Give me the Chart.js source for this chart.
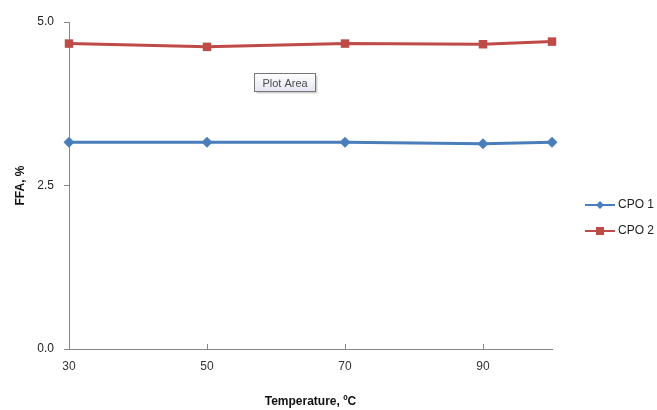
<!DOCTYPE html>
<html>
<head>
<meta charset="utf-8">
<script src="https://cdn.jsdelivr.net/npm/chart.js@4.4.1/dist/chart.umd.min.js"></script>
<style>
  html, body { margin: 0; padding: 0; background: #fff; }
  #wrap { width: 657px; height: 410px; position: relative; }
</style>
</head>
<body>
<div id="wrap"><canvas id="myChart"></canvas></div>
<script>
// data
var temps = [30, 50, 70, 90, 100];
var cpo1 = [3.16, 3.16, 3.16, 3.14, 3.16];
var cpo2 = [4.67, 4.62, 4.67, 4.66, 4.70];
var seriesNames = ['CPO 1', 'CPO 2'];
var xTicks = [30, 50, 70, 90];
var yTicks = [0, 2.5, 5];

var blue = '#4a7ebb';
var red = '#be4b48';
var axisColor = '#868686';
var fontName = "'Liberation Sans', Arial, sans-serif";

function toPoints(xs, ys){
	var pts = [];
	for(var i=0; i<xs.length; i++){
		pts.push({x: xs[i], y: ys[i]});
	}
	return pts;
}

// small tick marks inside the plot on the x axis (excel style)
var innerTicks = {
	id: 'innerTicks',
	afterDatasetsDraw: function(chart){
		var ctx = chart.ctx;
		var xs = chart.scales.x;
		var bottom = chart.chartArea.bottom;
		ctx.save();
		ctx.strokeStyle = axisColor;
		ctx.lineWidth = 1;
		for(var i=1; i<xTicks.length; i++){
			var px = Math.round(xs.getPixelForValue(xTicks[i])) + 0.5;
			ctx.beginPath();
			ctx.moveTo(px, bottom);
			ctx.lineTo(px, bottom - 5);
			ctx.stroke();
		}
		ctx.restore();
	}
};

// legend with line + marker like excel
var sideLegend = {
	id: 'sideLegend',
	afterDraw: function(chart){
		var ctx = chart.ctx;
		var x0 = 585, x1 = 615;
		var rows = [205, 231];
		ctx.save();
		chart.data.datasets.forEach(function(ds, i){
			var y = rows[i];
			ctx.strokeStyle = ds.borderColor;
			ctx.lineWidth = 2;
			ctx.beginPath();
			ctx.moveTo(x0, y);
			ctx.lineTo(x1, y);
			ctx.stroke();
			ctx.fillStyle = ds.backgroundColor;
			var cx = (x0 + x1) / 2;
			if(ds.pointStyle === 'rectRot'){
				ctx.beginPath();
				ctx.moveTo(cx, y - 4);
				ctx.lineTo(cx + 4, y);
				ctx.lineTo(cx, y + 4);
				ctx.lineTo(cx - 4, y);
				ctx.closePath();
				ctx.fill();
			}else{
				ctx.fillRect(cx - 4, y - 4, 8, 8);
			}
			ctx.fillStyle = '#222';
			ctx.font = '12px ' + fontName;
			ctx.textBaseline = 'middle';
			ctx.textAlign = 'left';
			ctx.fillText(ds.label, 618, y);
		});
		ctx.restore();
	}
};

// the "Plot Area" hover box seen in the picture
var plotAreaTip = {
	id: 'plotAreaTip',
	afterDraw: function(chart){
		var ctx = chart.ctx;
		var bx = 254.5, by = 73.5, bw = 61, bh = 18;
		ctx.save();
		ctx.fillStyle = 'rgba(0,0,0,0.18)';
		ctx.fillRect(bx + 2, by + 2, bw, bh);
		var g = ctx.createLinearGradient(0, by, 0, by + bh);
		g.addColorStop(0, '#ffffff');
		g.addColorStop(1, '#e4e5f0');
		ctx.fillStyle = g;
		ctx.fillRect(bx, by, bw, bh);
		ctx.strokeStyle = '#767676';
		ctx.lineWidth = 1;
		ctx.strokeRect(bx, by, bw, bh);
		ctx.fillStyle = '#4c4c4c';
		ctx.font = '11px ' + fontName;
		ctx.textAlign = 'center';
		ctx.textBaseline = 'middle';
		ctx.fillText('Plot Area', bx + bw / 2, by + bh / 2 + 1);
		ctx.restore();
	}
};

var chartData = {
	datasets: [
		{
			label: seriesNames[0],
			data: toPoints(temps, cpo1),
			borderColor: blue,
			backgroundColor: blue,
			borderWidth: 3,
			pointStyle: 'rectRot',
			pointRadius: 5.5,
			pointBorderWidth: 0,
			tension: 0,
			clip: false
		},
		{
			label: seriesNames[1],
			data: toPoints(temps, cpo2),
			borderColor: red,
			backgroundColor: red,
			borderWidth: 3,
			pointStyle: 'rect',
			pointRadius: 6,
			pointBorderWidth: 0,
			tension: 0,
			clip: false
		}
	]
};

var chartOptions = {
	responsive: true,
	maintainAspectRatio: false,
	animation: false,
	layout: { padding: { left: 0, top: 22, right: 105, bottom: 0 } },
	plugins: {
		legend: { display: false },
		tooltip: { enabled: false }
	},
	scales: {
		x: {
			type: 'linear',
			min: 30,
			max: 100,
			afterBuildTicks: function(scale){
				scale.ticks = xTicks.map(function(v){ return {value: v}; });
			},
			afterFit: function(scale){ scale.height = 61; },
			grid: { display: false, drawTicks: false },
			border: { display: true, color: axisColor, width: 1 },
			ticks: {
				padding: 10,
				color: '#333',
				font: { family: fontName, size: 12 },
				maxRotation: 0
			},
			title: {
				display: true,
				text: 'Temperature, ºC',
				color: '#111',
				font: { family: fontName, size: 12, weight: 'bold' },
				padding: { top: 0, bottom: 1 }
			}
		},
		y: {
			min: 0,
			max: 5,
			afterBuildTicks: function(scale){
				scale.ticks = yTicks.map(function(v){ return {value: v}; });
			},
			afterFit: function(scale){ scale.width = 69; },
			grid: { drawOnChartArea: false, drawTicks: true, tickLength: 5, color: axisColor },
			border: { display: true, color: axisColor, width: 1 },
			ticks: {
				padding: 10,
				color: '#222',
				font: { family: fontName, size: 12 },
				callback: function(v){ return Number(v).toFixed(1); }
			},
			title: {
				display: true,
				text: 'FFA, %',
				color: '#111',
				font: { family: fontName, size: 12, weight: 'bold' },
				padding: { top: 13, bottom: 0 }
			}
		}
	}
};

var ctx = document.getElementById('myChart').getContext('2d');
var myChart = new Chart(ctx, {
	type: 'line',
	data: chartData,
	options: chartOptions,
	plugins: [innerTicks, sideLegend, plotAreaTip]
});
</script>
</body>
</html>
